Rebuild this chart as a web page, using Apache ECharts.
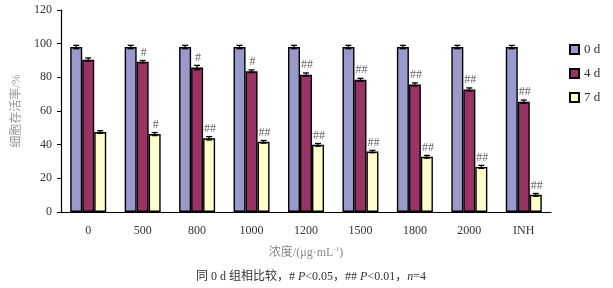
<!DOCTYPE html>
<html>
<head>
<meta charset="utf-8">
<script src="https://cdn.jsdelivr.net/npm/echarts@6/dist/echarts.min.js"></script>
<style>
html,body{margin:0;padding:0;background:#fff;}
#c{width:613px;height:288px;}
</style>
</head>
<body>
<div id="c"></div>
<script>
var categories = ['0', '500', '800', '1000', '1200', '1500', '1800', '2000', 'INH'];
var seriesNames = ['0 d', '4 d', '7 d'];
var day0 = [98, 98, 98, 98, 98, 98, 98, 98, 98];
var day4 = [90.5, 89.3, 85.8, 83.6, 81.6, 78.5, 75.8, 72.8, 65.5];
var day7 = [47.5, 46.3, 43.8, 41.7, 39.9, 35.9, 32.8, 26.8, 10.2];
var err0 = [1, 1, 1, 1, 1, 1, 1, 1, 1];
var err4 = [1, 0.7, 1.3, 0.8, 1, 0.9, 0.9, 0.9, 1];
var err7 = [0.8, 0.9, 1, 0.8, 0.8, 0.7, 0.8, 0.9, 0.8];
var sig4 = ['', '#', '#', '#', '##', '##', '##', '##', '##'];
var sig7 = ['', '#', '##', '##', '##', '##', '##', '##', '##'];
var yTicks = [0, 20, 40, 60, 80, 100, 120];

var colors = ['#9999CC', '#993366', '#FFFFCC'];
var serif = '"Liberation Serif", "DejaVu Serif", "Noto Sans CJK SC", serif';
var cjk = '"Liberation Serif", "Noto Sans CJK SC", serif';

var vals = [day0, day4, day7];
var errs = [err0, err4, err7];
var sigs = [null, sig4, sig7];
var BW = 12;

var series = [];
vals.forEach(function (v, si) {
  series.push({
    name: seriesNames[si],
    type: 'bar',
    data: v,
    barWidth: BW,
    barGap: '0%',
    itemStyle: {color: colors[si], borderColor: '#000', borderWidth: 1.4},
    z: 2
  });
});
vals.forEach(function (v, si) {
  series.push({
    type: 'custom',
    name: 'err' + si,
    z: 5,
    data: v.map(function (val, i) { return [i, val, errs[si][i]]; }),
    renderItem: function (params, api) {
      var x = api.value(0), y = api.value(1), e = api.value(2);
      var off = (si - 1) * BW;
      var hi = api.coord([x, y + e]);
      var lo = api.coord([x, y - e]);
      var cx = hi[0] + off;
      var cap = 3;
      var st = {stroke: '#000', lineWidth: 1.3};
      return {
        type: 'group',
        children: [
          {type: 'line', shape: {x1: cx, y1: hi[1], x2: cx, y2: lo[1]}, style: st},
          {type: 'line', shape: {x1: cx - cap, y1: hi[1], x2: cx + cap, y2: hi[1]}, style: st},
          {type: 'line', shape: {x1: cx - cap, y1: lo[1], x2: cx + cap, y2: lo[1]}, style: st}
        ]
      };
    }
  });
});
[1, 2].forEach(function (si) {
  series.push({
    type: 'custom',
    name: 'sig' + si,
    z: 6,
    data: vals[si].map(function (val, i) { return [i, val, errs[si][i]]; }),
    renderItem: function (params, api) {
      var i = api.value(0), y = api.value(1), e = api.value(2);
      var off = (si - 1) * BW;
      var p = api.coord([i, y + e]);
      return {
        type: 'text',
        style: {
          text: sigs[si][params.dataIndex],
          x: p[0] + off + 1,
          y: p[1] - 2,
          textAlign: 'center',
          textVerticalAlign: 'bottom',
          fill: '#666',
          font: '12px ' + serif
        }
      };
    }
  });
});

var chart = echarts.init(document.getElementById('c'), null, {renderer: 'canvas'});
chart.setOption({
  animation: false,
  backgroundColor: '#fff',
  grid: {left: 61, right: 62, top: 10, bottom: 76, containLabel: false},
  legend: {
    data: seriesNames,
    orient: 'vertical',
    left: 564,
    top: 38,
    itemWidth: 9,
    itemHeight: 9,
    itemGap: 11,
    icon: 'rect',
    textStyle: {fontFamily: serif, fontSize: 13, color: '#333'}
  },
  xAxis: {
    type: 'category',
    data: categories,
    axisLine: {lineStyle: {color: '#000', width: 1.2}},
    axisTick: {inside: true, length: 4, lineStyle: {color: '#000'}},
    axisLabel: {fontFamily: serif, fontSize: 12, color: '#333', margin: 13},
    name: '浓度/(μg·mL{sup|-1})',
    nameLocation: 'middle',
    nameGap: 34,
    nameTextStyle: {
      fontFamily: cjk, fontSize: 12, color: '#888',
      rich: {sup: {fontSize: 7, verticalAlign: 'top', color: '#888', fontFamily: serif, padding: [0, 0, 6, 0]}}
    }
  },
  yAxis: {
    type: 'value',
    min: yTicks[0],
    max: yTicks[yTicks.length - 1],
    interval: 20,
    splitLine: {show: false},
    axisLine: {show: true, lineStyle: {color: '#000', width: 1.2}},
    axisTick: {show: true, length: 4, lineStyle: {color: '#000'}},
    axisLabel: {fontFamily: serif, fontSize: 12, color: '#333', margin: 9},
    name: '细胞存活率/%',
    nameLocation: 'middle',
    nameGap: 37,
    nameTextStyle: {fontFamily: cjk, fontSize: 12, color: '#999'}
  },
  title: {
    text: '同 0 d 组相比较，# {i|P}<0.05，## {i|P}<0.01，{i|n}=4',
    left: 306,
    textAlign: 'center',
    top: 266,
    textStyle: {
      fontFamily: cjk, fontSize: 12, fontWeight: 'normal', color: '#333',
      rich: {i: {fontStyle: 'italic', fontFamily: serif, fontSize: 12, color: '#333'}}
    }
  },
  series: series
});
</script>
</body>
</html>
